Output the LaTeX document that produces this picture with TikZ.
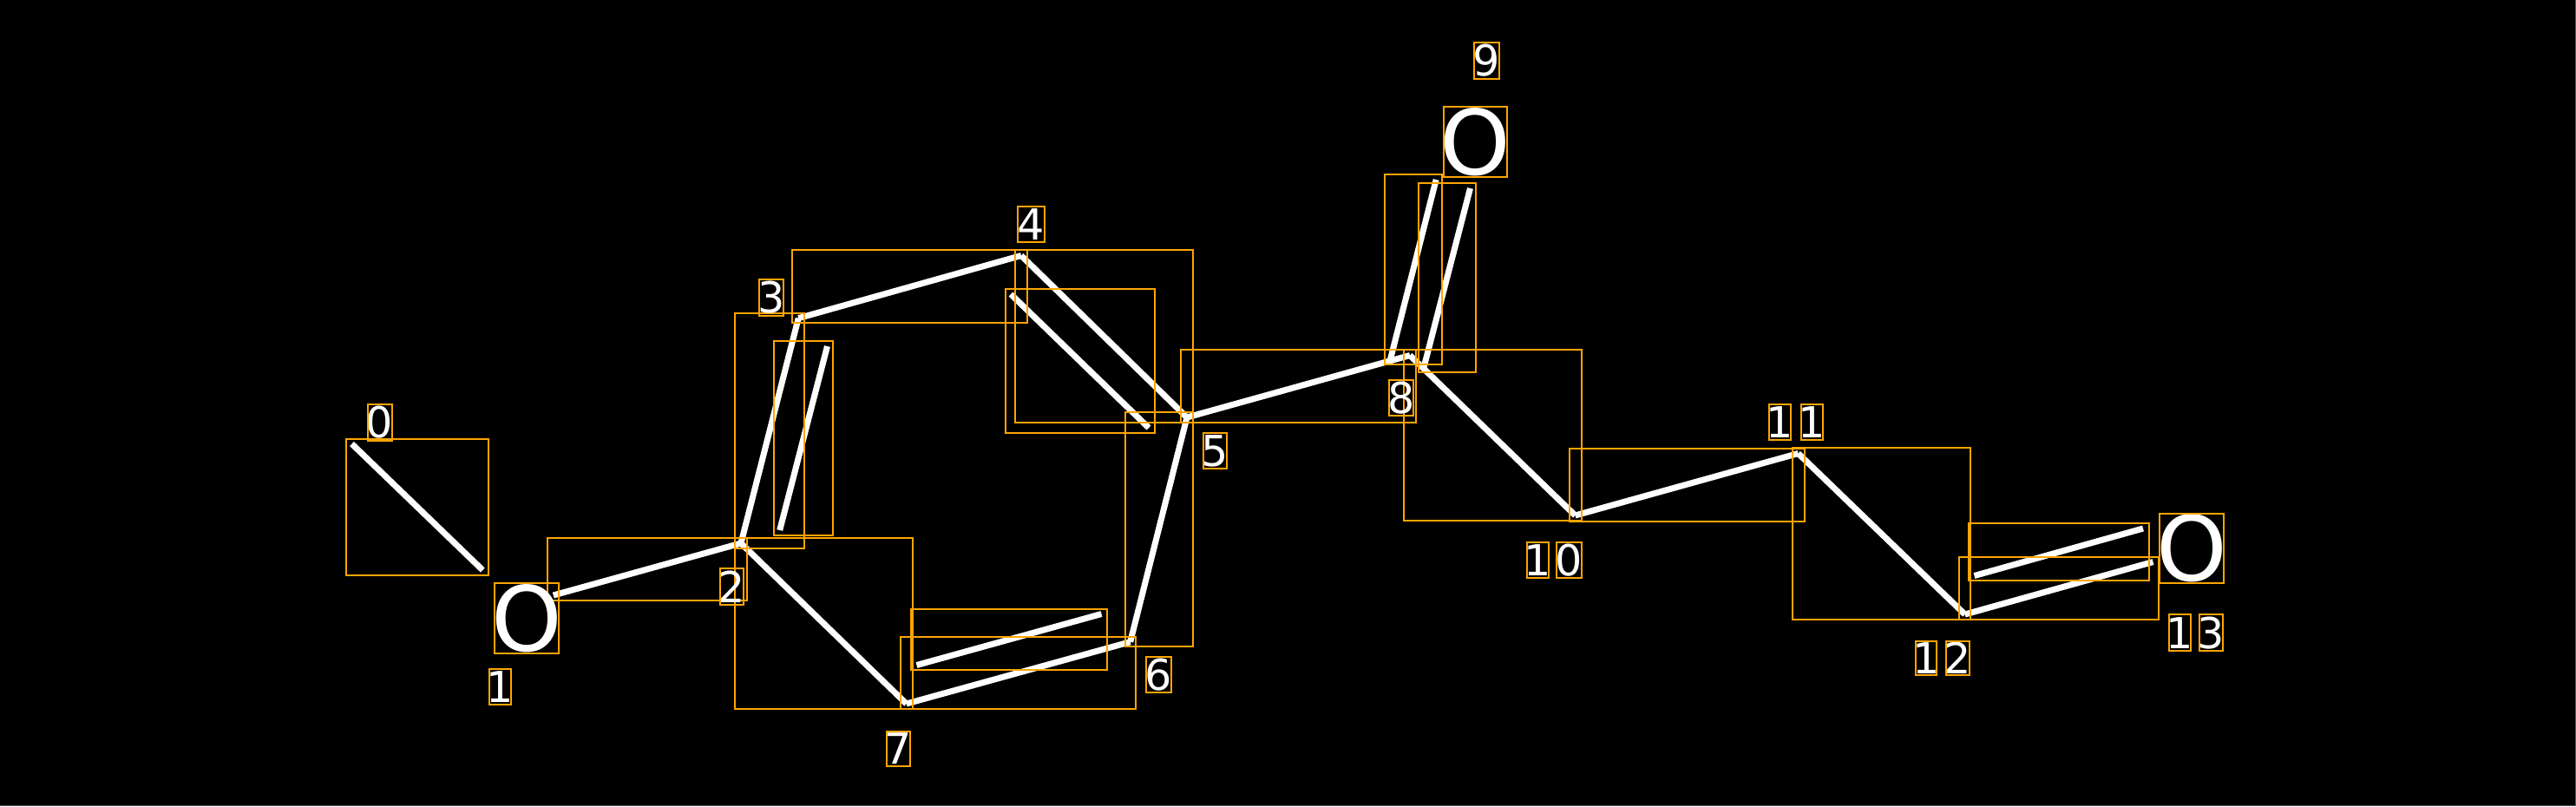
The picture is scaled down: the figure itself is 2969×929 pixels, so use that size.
\documentclass[tikz,border=0pt]{standalone}
\usepackage{fontspec}
\setmainfont{DejaVu Sans}
\definecolor{boxorange}{RGB}{255,165,0}
\definecolor{edgegray}{RGB}{90,90,90}
\tikzset{
  seg/.style={draw=white, line width=0.07cm, line cap=butt},
  obox/.style={draw=boxorange, line width=0.02cm},
  lbl/.style={text=white, inner sep=0pt, font=\fontsize{14pt}{14pt}\selectfont},
  bigO/.style={text=white, inner sep=0pt, font=\fontsize{29.5pt}{29.5pt}\selectfont},
}
\begin{document}
\begin{tikzpicture}[x=0.01cm,y=-0.01cm]
\fill[black] (0,0) rectangle (2969,929);
\useasboundingbox (0,0) rectangle (2969,929);
\draw[edgegray, line width=0.015cm] (2968.3,0) -- (2968.3,928.3) -- (0,928.3);

% stroke end points
\coordinate (a0) at (405.5,511.5);
\coordinate (b0) at (556.3,657);
\coordinate (c1) at (637.8,686);
\coordinate (n2) at (854,626);
\coordinate (n3) at (920.2,366.7);
\coordinate (e1) at (953.5,399);
\coordinate (e2) at (898.7,611);
\coordinate (n4) at (1177,294.5);
\coordinate (n5) at (1368,481);
\coordinate (h1) at (1165,339);
\coordinate (h2) at (1324,493);
\coordinate (n7) at (1044.7,811);
\coordinate (n6) at (1302.7,739.7);
\coordinate (k1) at (1056.5,766.5);
\coordinate (k2) at (1269.5,707.5);
\coordinate (n8) at (1625,409.5);
\coordinate (p1) at (1602.5,414);
\coordinate (p2) at (1655.2,207);
\coordinate (o1) at (1694.5,217);
\coordinate (o2) at (1641,423.5);
\coordinate (n10) at (1815.5,594);
\coordinate (n11) at (2072.5,522.5);
\coordinate (n12) at (2264.7,708);
\coordinate (t2) at (2481.5,647.5);
\coordinate (u1) at (2275.5,663.5);
\coordinate (u2) at (2470,609);

% white strokes
\draw[seg] (a0) -- (b0);
\draw[seg] (c1) -- (n2);
\draw[seg] (n2) -- (n3);
\draw[seg] (e1) -- (e2);
\draw[seg] (n3) -- (n4);
\draw[seg] (n4) -- (n5);
\draw[seg] (h1) -- (h2);
\draw[seg] (n2) -- (n7);
\draw[seg] (n7) -- (n6);
\draw[seg] (k1) -- (k2);
\draw[seg] (n6) -- (n5);
\draw[seg] (n5) -- (n8);
\draw[seg] (p1) -- (p2);
\draw[seg] (o1) -- (o2);
\draw[seg] (n8) -- (n10);
\draw[seg] (n10) -- (n11);
\draw[seg] (n11) -- (n12);
\draw[seg] (n12) -- (t2);
\draw[seg] (u1) -- (u2);

% stroke boxes
\draw[obox] (399,506) rectangle (562.8,663.3);
\draw[obox] (631.3,620) rectangle (860.9,692.3);
\draw[obox] (846.7,361) rectangle (927,631.7);
\draw[obox] (892.2,392.7) rectangle (960,617.3);
\draw[obox] (913.3,288.3) rectangle (1183.9,372.3);
\draw[obox] (1170,288.3) rectangle (1374.8,486.7);
\draw[obox] (1159,332.7) rectangle (1330.8,498.7);
\draw[obox] (846.7,620) rectangle (1051.7,817.3);
\draw[obox] (1037.7,734) rectangle (1309,817.3);
\draw[obox] (1050,702) rectangle (1276,772.3);
\draw[obox] (1296.5,475) rectangle (1375,745.3);
\draw[obox] (1361.3,403.3) rectangle (1631.7,486.7);
\draw[obox] (1596,201) rectangle (1661.7,420.3);
\draw[obox] (1635,211) rectangle (1700.7,429.3);
\draw[obox] (1618.3,403.3) rectangle (1823,600);
\draw[obox] (1809,516.7) rectangle (2080,600.7);
\draw[obox] (2066,516) rectangle (2271,714.3);
\draw[obox] (2258.3,642) rectangle (2488,714.3);
\draw[obox] (2269,603.3) rectangle (2476.5,669.3);

% big O glyphs
\node[bigO] (O1) at (607,712.7) {O};
\draw[obox] (570,672) rectangle (644,753.3);
\node[bigO] (O9) at (1700.3,163.8) {O};
\draw[obox] (1664,123.3) rectangle (1736.7,204.3);
\node[bigO] (O13) at (2526,632) {O};
\draw[obox] (2489.3,591.5) rectangle (2562.7,672.3);

% labels
\node[lbl] (L0) at (437.65,486.85) {0};
\draw[obox] (423.5,466) rectangle (451.8,507.7);
\node[lbl] (L1) at (576.5,791.3) {1};
\draw[obox] (564.3,770.7) rectangle (588.8,812);
\node[lbl] (L2) at (843.6,675.8) {2};
\draw[obox] (830.3,655) rectangle (857,696.7);
\node[lbl] (L3) at (889,342.8) {3};
\draw[obox] (875.4,322) rectangle (902.6,363.7);
\node[lbl] (L4) at (1188.4,258.3) {4};
\draw[obox] (1173.1,237.7) rectangle (1203.7,279);
\node[lbl] (L5) at (1400.3,519.5) {5};
\draw[obox] (1386.7,499) rectangle (1414,540);
\node[lbl] (L6) at (1335.5,777.5) {6};
\draw[obox] (1321,756.7) rectangle (1350,798.3);
\node[lbl] (L7) at (1035.5,862.7) {7};
\draw[obox] (1021.7,842.7) rectangle (1049.3,882.7);
\node[lbl] (L8) at (1615,458.8) {8};
\draw[obox] (1601,438.3) rectangle (1629,479.3);
\node[lbl] (L9) at (1713.3,69.8) {9};
\draw[obox] (1699,49) rectangle (1727.7,90.7);
\node[lbl] (L10a) at (1772.5,645.3) {1};
\draw[obox] (1760,625) rectangle (1785,665.7);
\node[lbl] (L10b) at (1808.6,645.3) {0};
\draw[obox] (1794,625) rectangle (1823.3,665.7);
\node[lbl] (L11a) at (2051.5,486.3) {1};
\draw[obox] (2039,466) rectangle (2064,506.7);
\node[lbl] (L11b) at (2088.3,486.3) {1};
\draw[obox] (2076,466) rectangle (2100.7,506.7);
\node[lbl] (L12a) at (2220.3,758.5) {1};
\draw[obox] (2208.3,738.7) rectangle (2232.3,778.3);
\node[lbl] (L12b) at (2256.6,758.5) {2};
\draw[obox] (2243.3,738.7) rectangle (2270,778.3);
\node[lbl] (L13a) at (2512.5,729.2) {1};
\draw[obox] (2500,708.3) rectangle (2525,750);
\node[lbl] (L13b) at (2548.5,729.2) {3};
\draw[obox] (2535,708.3) rectangle (2562,750);
\end{tikzpicture}
\end{document}
